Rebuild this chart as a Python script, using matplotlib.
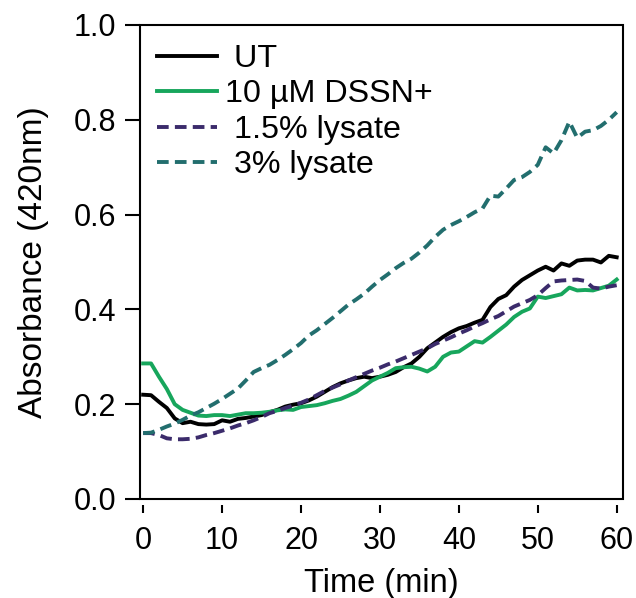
import matplotlib
matplotlib.use("Agg")
import matplotlib.pyplot as plt
from matplotlib.patches import Rectangle

plt.rcParams['font.family'] = ['Liberation Sans', 'DejaVu Sans']

time_min = list(range(0, 61))

ut = [0.220, 0.219, 0.205, 0.192, 0.170, 0.160, 0.163, 0.158, 0.157, 0.158,
      0.166, 0.163, 0.169, 0.171, 0.174, 0.177, 0.183, 0.188, 0.195, 0.199,
      0.202, 0.208, 0.216, 0.226, 0.236, 0.244, 0.250, 0.255, 0.258, 0.255,
      0.258, 0.262, 0.268, 0.278, 0.286, 0.300, 0.318, 0.330, 0.342, 0.352,
      0.360, 0.365, 0.372, 0.378, 0.405, 0.422, 0.430, 0.448, 0.462, 0.472,
      0.482, 0.490, 0.482, 0.497, 0.492, 0.503, 0.505, 0.505, 0.499, 0.513,
      0.510]

dssn = [0.286, 0.286, 0.258, 0.232, 0.200, 0.188, 0.182, 0.176, 0.175, 0.177,
        0.177, 0.175, 0.178, 0.181, 0.181, 0.182, 0.184, 0.187, 0.189, 0.188,
        0.194, 0.196, 0.198, 0.202, 0.207, 0.211, 0.218, 0.226, 0.238, 0.250,
        0.258, 0.266, 0.276, 0.278, 0.279, 0.275, 0.269, 0.279, 0.300, 0.309,
        0.311, 0.322, 0.333, 0.330, 0.342, 0.355, 0.368, 0.384, 0.395, 0.402,
        0.427, 0.424, 0.428, 0.432, 0.446, 0.440, 0.441, 0.440, 0.445, 0.450,
        0.463]

lys15 = [0.139, 0.139, 0.135, 0.128, 0.126, 0.126, 0.127, 0.130, 0.135, 0.139,
         0.144, 0.149, 0.155, 0.160, 0.166, 0.173, 0.181, 0.186, 0.192, 0.197,
         0.203, 0.210, 0.219, 0.228, 0.235, 0.242, 0.250, 0.257, 0.264, 0.271,
         0.277, 0.284, 0.290, 0.297, 0.304, 0.311, 0.318, 0.327, 0.334, 0.341,
         0.349, 0.356, 0.364, 0.371, 0.379, 0.386, 0.396, 0.406, 0.413, 0.420,
         0.430, 0.445, 0.459, 0.461, 0.462, 0.463, 0.460, 0.446, 0.444, 0.448,
         0.451]

lys3 = [0.139, 0.140, 0.146, 0.153, 0.159, 0.167, 0.176, 0.183, 0.192, 0.201,
        0.211, 0.222, 0.233, 0.250, 0.268, 0.276, 0.283, 0.293, 0.304, 0.316,
        0.329, 0.345, 0.356, 0.369, 0.382, 0.396, 0.410, 0.421, 0.433, 0.448,
        0.462, 0.474, 0.487, 0.498, 0.507, 0.520, 0.535, 0.553, 0.568, 0.578,
        0.586, 0.595, 0.605, 0.613, 0.640, 0.638, 0.655, 0.673, 0.679, 0.690,
        0.705, 0.742, 0.729, 0.757, 0.796, 0.762, 0.775, 0.778, 0.787, 0.800,
        0.816]

labels = [' UT', '10 µM DSSN+', ' 1.5% lysate', ' 3% lysate']
colors = ['black', '#17a65c', '#3b2b6b', '#226e6e']

fig = plt.figure(figsize=(6.36, 5.98), dpi=100)
ax = fig.add_axes([140/636, 1 - 499/598, 483/636, 474/598])

lw = 2.8
ax.plot(time_min, ut, color=colors[0], lw=lw, label=labels[0])
ax.plot(time_min, dssn, color=colors[1], lw=lw, label=labels[1])
ax.plot(time_min, lys15, color=colors[2], lw=lw, ls=(0, (3, 1.6)), label=labels[2])
ax.plot(time_min, lys3, color=colors[3], lw=lw, ls=(0, (3, 1.6)), label=labels[3])

ax.set_xlim(-0.4, 60.8)
ax.set_ylim(0, 1.0)
ax.set_xticks([0, 10, 20, 30, 40, 50, 60])
ax.set_yticks([0.0, 0.2, 0.4, 0.6, 0.8, 1.0])
ax.set_yticklabels(['0.0', '0.2', '0.4', '0.6', '0.8', '1.0'])

# box frame, x ticks detached below it
for s in ax.spines.values():
    s.set_visible(False)
ax.spines['bottom'].set_position(('outward', 4.3))
ax.add_patch(Rectangle((0, 0), 1, 1, transform=ax.transAxes, fill=False,
                       lw=1.5, ec='black', clip_on=False, zorder=5))

ax.tick_params(axis='x', length=5.8, width=1.5, pad=9, labelsize=22)
ax.tick_params(axis='y', length=11, width=1.5, pad=6, labelsize=22)

ax.set_xlabel('Time (min)', fontsize=23.5, labelpad=9)
ax.set_ylabel('Absorbance (420nm)', fontsize=24, labelpad=18)

ax.legend(loc='upper left', bbox_to_anchor=(0.035, 0.96), frameon=False,
          fontsize=23.2, handlelength=1.85, handletextpad=0.25,
          labelspacing=0.17, borderaxespad=0, borderpad=0)

fig.savefig('out.png', dpi=100)
